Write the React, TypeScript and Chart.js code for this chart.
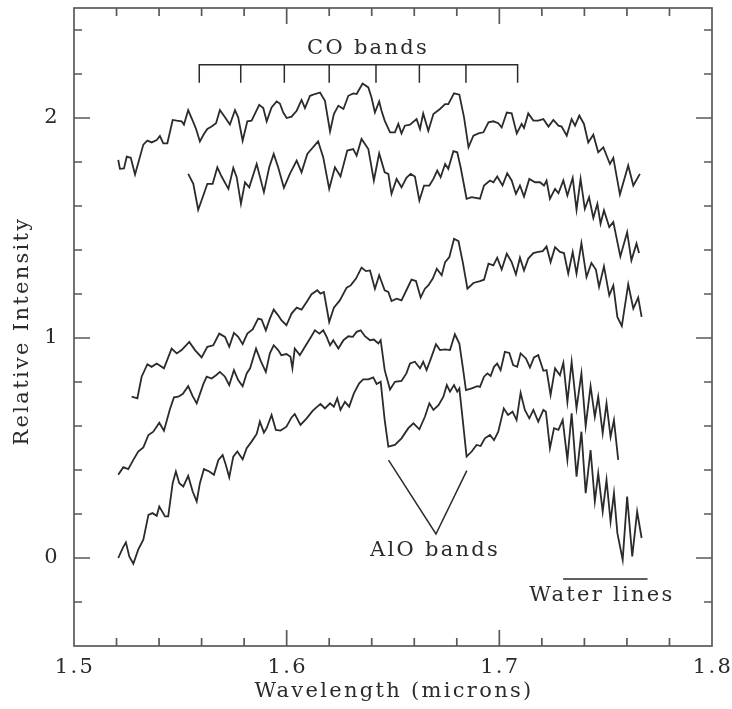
import { useEffect, useRef } from 'react';
import { Chart, registerables } from 'chart.js';

Chart.register(...registerables);

// spectra: [wavelength (microns), relative intensity]
const spectrumA: [number, number][] = [
  [1.5208, 1.81], [1.5216, 1.769], [1.5235, 1.771], [1.5248, 1.824], [1.5267, 1.819], [1.5287, 1.743],
  [1.5326, 1.879], [1.5345, 1.897], [1.5365, 1.889], [1.5389, 1.9], [1.5404, 1.918], [1.542, 1.885],
  [1.5439, 1.885], [1.5464, 1.991], [1.5483, 1.988], [1.5506, 1.985], [1.5517, 1.97], [1.5537, 2.036],
  [1.5558, 1.988], [1.5574, 1.95], [1.5592, 1.893], [1.5611, 1.927], [1.5627, 1.95], [1.5647, 1.961],
  [1.5668, 1.976], [1.5686, 2.036], [1.571, 2.003], [1.5733, 1.97], [1.5757, 2.036], [1.5772, 2.003],
  [1.5793, 1.897], [1.5815, 1.985], [1.5835, 1.988], [1.5871, 2.06], [1.589, 2.045], [1.5906, 1.985],
  [1.5929, 2.048], [1.5953, 2.075], [1.5968, 2.066], [1.5984, 2.025], [1.6, 2.0], [1.6023, 2.006],
  [1.6047, 2.033], [1.607, 2.082], [1.6086, 2.045], [1.611, 2.101], [1.6133, 2.109], [1.6157, 2.116],
  [1.618, 2.078], [1.6204, 1.939], [1.6222, 2.018], [1.6243, 2.056], [1.6267, 2.041], [1.629, 2.101],
  [1.6313, 2.112], [1.6329, 2.109], [1.6357, 2.157], [1.6384, 2.139], [1.6399, 2.093], [1.6415, 2.025],
  [1.6435, 2.075], [1.6446, 2.033], [1.6461, 1.988], [1.6486, 1.935], [1.6509, 1.935], [1.6525, 1.973],
  [1.654, 1.93], [1.6556, 1.965], [1.658, 1.97], [1.6611, 1.995], [1.6627, 1.95], [1.6642, 2.021],
  [1.6666, 1.942], [1.669, 2.018], [1.6721, 2.041], [1.6745, 2.063], [1.676, 2.063], [1.6787, 2.112],
  [1.6812, 2.106], [1.6834, 2.003], [1.6855, 1.867], [1.6878, 1.92], [1.6902, 1.93], [1.6925, 1.935],
  [1.6949, 1.98], [1.6972, 1.985], [1.6995, 1.976], [1.7011, 1.957], [1.7035, 2.025], [1.7058, 2.021],
  [1.7082, 1.93], [1.7105, 1.973], [1.7116, 1.955], [1.7136, 2.021], [1.716, 1.988], [1.7183, 1.988],
  [1.7207, 1.995], [1.7231, 1.961], [1.7254, 1.991], [1.7278, 1.965], [1.7293, 1.961], [1.7317, 1.92],
  [1.734, 1.995], [1.7356, 1.965], [1.7376, 2.011], [1.7398, 1.973], [1.7418, 1.889], [1.7442, 1.924],
  [1.7465, 1.844], [1.7489, 1.867], [1.752, 1.791], [1.7536, 1.819], [1.7567, 1.652], [1.7606, 1.784],
  [1.763, 1.693], [1.7661, 1.746],
];

const spectrumB: [number, number][] = [
  [1.5537, 1.746], [1.5561, 1.701], [1.5584, 1.583], [1.5608, 1.648], [1.5627, 1.701], [1.5652, 1.701],
  [1.5674, 1.776], [1.5694, 1.734], [1.5726, 1.678], [1.5749, 1.773], [1.5765, 1.731], [1.5785, 1.61],
  [1.5804, 1.708], [1.5824, 1.685], [1.5859, 1.791], [1.5893, 1.663], [1.5918, 1.776], [1.5939, 1.837],
  [1.596, 1.776], [1.5987, 1.683], [1.6015, 1.746], [1.6047, 1.806], [1.607, 1.753], [1.6097, 1.837],
  [1.6117, 1.859], [1.6148, 1.894], [1.6172, 1.821], [1.62, 1.678], [1.6227, 1.776], [1.6253, 1.734],
  [1.6285, 1.852], [1.6313, 1.859], [1.6329, 1.829], [1.6352, 1.905], [1.6384, 1.859], [1.641, 1.716],
  [1.6435, 1.839], [1.6461, 1.753], [1.6478, 1.746], [1.6493, 1.655], [1.6517, 1.723], [1.654, 1.685],
  [1.6563, 1.728], [1.6583, 1.746], [1.6603, 1.734], [1.6624, 1.625], [1.6646, 1.693], [1.6671, 1.693],
  [1.669, 1.723], [1.6708, 1.761], [1.6724, 1.731], [1.6745, 1.791], [1.676, 1.769], [1.6784, 1.849],
  [1.6802, 1.844], [1.6818, 1.776], [1.6846, 1.633], [1.687, 1.64], [1.6909, 1.633], [1.6928, 1.693],
  [1.6956, 1.716], [1.6972, 1.708], [1.699, 1.734], [1.7015, 1.693], [1.7037, 1.749], [1.7058, 1.716],
  [1.7078, 1.655], [1.7097, 1.693], [1.7116, 1.643], [1.7141, 1.723], [1.7168, 1.708], [1.7191, 1.708],
  [1.721, 1.693], [1.7222, 1.716], [1.7238, 1.633], [1.7262, 1.678], [1.7278, 1.658], [1.7301, 1.716],
  [1.732, 1.648], [1.7345, 1.728], [1.7363, 1.583], [1.7382, 1.723], [1.7402, 1.587], [1.7422, 1.64],
  [1.7442, 1.546], [1.7461, 1.61], [1.7476, 1.519], [1.7492, 1.58], [1.7517, 1.504], [1.7536, 1.527],
  [1.7569, 1.371], [1.7601, 1.481], [1.7621, 1.353], [1.7645, 1.429], [1.7657, 1.386],
];

const spectrumC: [number, number][] = [
  [1.5271, 0.733], [1.5298, 0.726], [1.5318, 0.824], [1.5345, 0.881], [1.5365, 0.869], [1.5389, 0.884],
  [1.5423, 0.862], [1.5459, 0.952], [1.5483, 0.93], [1.5506, 0.945], [1.5542, 0.982], [1.5569, 0.945],
  [1.56, 0.912], [1.5627, 0.96], [1.5655, 0.967], [1.5683, 1.02], [1.571, 1.005], [1.573, 0.96],
  [1.5752, 1.023], [1.5772, 1.005], [1.5793, 0.972], [1.5815, 1.02], [1.584, 1.039], [1.5866, 1.088],
  [1.5882, 1.084], [1.5902, 1.035], [1.5921, 1.088], [1.5939, 1.129], [1.596, 1.103], [1.5975, 1.081],
  [1.5999, 1.058], [1.6023, 1.111], [1.6047, 1.138], [1.607, 1.129], [1.6094, 1.164], [1.6117, 1.199],
  [1.6144, 1.217], [1.6159, 1.202], [1.6175, 1.209], [1.62, 1.073], [1.6222, 1.138], [1.625, 1.171],
  [1.6282, 1.229], [1.6301, 1.239], [1.6326, 1.27], [1.6352, 1.32], [1.6373, 1.304], [1.6392, 1.307],
  [1.6415, 1.224], [1.6435, 1.285], [1.6461, 1.217], [1.6478, 1.209], [1.6493, 1.168], [1.6517, 1.179],
  [1.654, 1.171], [1.6563, 1.217], [1.6587, 1.265], [1.6608, 1.259], [1.663, 1.184], [1.665, 1.224],
  [1.6666, 1.239], [1.6687, 1.27], [1.6706, 1.315], [1.6729, 1.285], [1.6745, 1.345], [1.6765, 1.368],
  [1.6787, 1.451], [1.6808, 1.44], [1.6828, 1.345], [1.685, 1.224], [1.6878, 1.25], [1.6909, 1.259],
  [1.6928, 1.265], [1.6949, 1.338], [1.6972, 1.33], [1.699, 1.365], [1.7011, 1.311], [1.7035, 1.383],
  [1.7058, 1.345], [1.7078, 1.289], [1.7097, 1.365], [1.7116, 1.307], [1.7136, 1.361], [1.716, 1.386],
  [1.7183, 1.391], [1.7204, 1.395], [1.7222, 1.416], [1.7241, 1.345], [1.7262, 1.413], [1.7285, 1.391],
  [1.7304, 1.386], [1.7324, 1.293], [1.7345, 1.391], [1.7363, 1.293], [1.7386, 1.431], [1.741, 1.277],
  [1.7433, 1.341], [1.7454, 1.311], [1.7469, 1.232], [1.7492, 1.326], [1.7517, 1.194], [1.7536, 1.239],
  [1.7555, 1.096], [1.7576, 1.054], [1.7606, 1.244], [1.763, 1.134], [1.7653, 1.184], [1.7669, 1.096],
];

const spectrumD: [number, number][] = [
  [1.5208, 0.378], [1.5232, 0.413], [1.5255, 0.404], [1.5279, 0.446], [1.5302, 0.484], [1.5326, 0.503],
  [1.535, 0.559], [1.5373, 0.574], [1.5401, 0.615], [1.5423, 0.579], [1.5451, 0.676], [1.547, 0.73],
  [1.549, 0.733], [1.5511, 0.745], [1.5537, 0.781], [1.5558, 0.736], [1.5577, 0.703], [1.5608, 0.79],
  [1.5624, 0.824], [1.5647, 0.816], [1.5668, 0.831], [1.5686, 0.846], [1.571, 0.824], [1.573, 0.786],
  [1.5752, 0.854], [1.5772, 0.809], [1.5793, 0.781], [1.5812, 0.839], [1.5828, 0.862], [1.5856, 0.952],
  [1.5878, 0.896], [1.5902, 0.846], [1.5921, 0.93], [1.5939, 0.967], [1.596, 0.945], [1.5975, 0.922],
  [1.5999, 0.927], [1.6018, 0.915], [1.6027, 0.862], [1.6038, 0.952], [1.6062, 0.922], [1.6086, 0.96],
  [1.611, 0.998], [1.6133, 1.035], [1.6154, 1.02], [1.6172, 1.035], [1.6188, 1.005], [1.6204, 0.967],
  [1.6219, 0.99], [1.6243, 0.952], [1.6267, 0.99], [1.629, 1.008], [1.6311, 1.005], [1.6329, 1.028],
  [1.6348, 1.035], [1.6368, 1.008], [1.6392, 0.99], [1.641, 0.993], [1.6431, 0.975], [1.6442, 0.99],
  [1.6461, 0.854], [1.6486, 0.766], [1.6509, 0.801], [1.654, 0.805], [1.6563, 0.839], [1.658, 0.884],
  [1.6603, 0.892], [1.6627, 0.862], [1.6642, 0.892], [1.6658, 0.854], [1.6681, 0.914], [1.6702, 0.972],
  [1.6721, 0.945], [1.6745, 0.948], [1.6768, 0.945], [1.6791, 1.017], [1.6812, 0.975], [1.6828, 0.869],
  [1.6843, 0.763], [1.687, 0.771], [1.6896, 0.781], [1.6909, 0.778], [1.6928, 0.824], [1.6944, 0.839],
  [1.6959, 0.827], [1.6975, 0.869], [1.699, 0.884], [1.7006, 0.854], [1.7026, 0.937], [1.7047, 0.932],
  [1.7065, 0.877], [1.7084, 0.869], [1.71, 0.93], [1.7125, 0.907], [1.7144, 0.866], [1.7163, 0.912],
  [1.7183, 0.922], [1.7207, 0.851], [1.7222, 0.854], [1.7241, 0.741], [1.7262, 0.862], [1.7285, 0.831],
  [1.7301, 0.887], [1.732, 0.71], [1.734, 0.892], [1.7363, 0.68], [1.7386, 0.839], [1.7406, 0.6],
  [1.7429, 0.781], [1.7449, 0.642], [1.7465, 0.733], [1.7486, 0.567], [1.7504, 0.703], [1.7523, 0.551],
  [1.7539, 0.627], [1.7559, 0.446],
];

const spectrumE: [number, number][] = [
  [1.5208, 0.0], [1.5229, 0.045], [1.5244, 0.071], [1.526, 0.007], [1.5279, -0.026], [1.5302, 0.038],
  [1.5326, 0.083], [1.535, 0.196], [1.5369, 0.204], [1.5389, 0.192], [1.5401, 0.234], [1.5428, 0.189],
  [1.5443, 0.189], [1.5464, 0.34], [1.5479, 0.393], [1.5495, 0.34], [1.5514, 0.325], [1.5537, 0.373],
  [1.5558, 0.302], [1.5577, 0.257], [1.5592, 0.34], [1.5611, 0.404], [1.5636, 0.393], [1.5658, 0.378],
  [1.5679, 0.446], [1.5699, 0.468], [1.5714, 0.423], [1.573, 0.367], [1.5749, 0.461], [1.5768, 0.484],
  [1.5793, 0.449], [1.5812, 0.499], [1.5835, 0.529], [1.5859, 0.564], [1.5874, 0.62], [1.5893, 0.57],
  [1.5906, 0.59], [1.5929, 0.65], [1.5949, 0.582], [1.5971, 0.579], [1.5999, 0.597], [1.6023, 0.639],
  [1.6038, 0.654], [1.6065, 0.605], [1.6094, 0.635], [1.6122, 0.669], [1.6144, 0.688], [1.6159, 0.7],
  [1.618, 0.68], [1.6204, 0.703], [1.6222, 0.688], [1.6238, 0.726], [1.6253, 0.673], [1.6274, 0.71],
  [1.6294, 0.688], [1.6316, 0.748], [1.6341, 0.794], [1.636, 0.812], [1.6384, 0.812], [1.6407, 0.821],
  [1.6423, 0.791], [1.6442, 0.801], [1.6461, 0.627], [1.6478, 0.506], [1.6509, 0.514], [1.654, 0.544],
  [1.6572, 0.59], [1.6596, 0.612], [1.6624, 0.585], [1.665, 0.642], [1.6671, 0.703], [1.669, 0.673],
  [1.6714, 0.695], [1.6737, 0.733], [1.6753, 0.786], [1.6768, 0.756], [1.6787, 0.786], [1.6802, 0.756],
  [1.6812, 0.771], [1.6828, 0.627], [1.6846, 0.461], [1.687, 0.484], [1.6893, 0.514], [1.6912, 0.509],
  [1.6932, 0.544], [1.6956, 0.559], [1.6975, 0.536], [1.6995, 0.574], [1.7021, 0.68], [1.7041, 0.65],
  [1.7062, 0.665], [1.7081, 0.627], [1.71, 0.751], [1.712, 0.673], [1.7141, 0.635], [1.716, 0.673],
  [1.7183, 0.62], [1.7207, 0.673], [1.7219, 0.665], [1.7238, 0.499], [1.7257, 0.59], [1.7278, 0.582],
  [1.7298, 0.627], [1.732, 0.446], [1.734, 0.658], [1.7363, 0.37], [1.7386, 0.574], [1.7406, 0.295],
  [1.7429, 0.491], [1.7449, 0.257], [1.7465, 0.385], [1.7486, 0.211], [1.7504, 0.355], [1.7523, 0.166],
  [1.7539, 0.295], [1.7555, 0.113], [1.758, -0.008], [1.7601, 0.279], [1.7625, 0.007], [1.7648, 0.211],
  [1.7669, 0.091],
];

// annotations
const coTickX = [1.5589, 1.5784, 1.5989, 1.62, 1.642, 1.6624, 1.6843, 1.7086];
const coBracketTop = 2.242;
const coTickBottom = 2.16;
const coLabel = { text: 'CO bands', x: 1.6378, y: 2.317 };

const aloVertices: [number, number][] = [[1.6479, 0.445], [1.6702, 0.109], [1.6847, 0.397]];
const aloLabel = { text: 'AlO bands', x: 1.6693, y: 0.035 };

const waterLineX = [1.73, 1.7697];
const waterLineY = -0.095;
const waterLabel = { text: 'Water lines', x: 1.7478, y: -0.169 };

const xTitle = 'Wavelength (microns)';
const yTitle = 'Relative Intensity';

const INK = '#2b2b2b';
const AXIS = '#5a5a5a';
const FONT = '"DejaVu Serif", serif';
const TEXT_FONT = `21px ${FONT}`;
const SPACING = '2.3px';

const isMajorX = (v: number) => Math.abs(v * 10 - Math.round(v * 10)) < 1e-6;
const isMinorX = (v: number) => Math.abs(v * 50 - Math.round(v * 50)) < 1e-6;
const isMajorY = (v: number) => Math.abs(v - Math.round(v)) < 1e-6;
const isMinorY = (v: number) => Math.abs(v * 5 - Math.round(v * 5)) < 1e-6;

const toPoints = (s: [number, number][]) => s.map(([x, y]) => ({ x, y }));

function coBracket() {
  const first = coTickX[0];
  const last = coTickX[coTickX.length - 1];
  const pts: { x: number; y: number | null }[] = [
    { x: first, y: coTickBottom },
    { x: first, y: coBracketTop },
    { x: last, y: coBracketTop },
    { x: last, y: coTickBottom },
  ];
  coTickX.slice(1, -1).forEach((x) => {
    pts.push({ x, y: null });
    pts.push({ x, y: coBracketTop });
    pts.push({ x, y: coTickBottom });
  });
  return pts;
}

// frame, inward ticks and all text
const framePlugin = {
  id: 'frame',
  afterDatasetsDraw(chart: any) {
    const { ctx, chartArea, scales } = chart;
    const { left, right, top, bottom } = chartArea;
    const xs = scales.x;
    const ys = scales.y;
    ctx.save();
    ctx.strokeStyle = AXIS;
    ctx.lineWidth = 1.7;
    ctx.strokeRect(left, top, right - left, bottom - top);
    ctx.beginPath();
    xs.ticks.forEach((t: any) => {
      const v = t.value;
      if (!isMinorX(v) || v <= xs.min + 1e-9 || v >= xs.max - 1e-9) return;
      const px = xs.getPixelForValue(v);
      const len = isMajorX(v) ? 16 : 8;
      ctx.moveTo(px, bottom);
      ctx.lineTo(px, bottom - len);
      ctx.moveTo(px, top);
      ctx.lineTo(px, top + len);
    });
    ys.ticks.forEach((t: any) => {
      const v = t.value;
      if (!isMinorY(v) || v <= ys.min + 1e-9 || v >= ys.max - 1e-9) return;
      const py = ys.getPixelForValue(v);
      const len = isMajorY(v) ? 16 : 8;
      ctx.moveTo(left, py);
      ctx.lineTo(left + len, py);
      ctx.moveTo(right, py);
      ctx.lineTo(right - len, py);
    });
    ctx.stroke();

    ctx.fillStyle = INK;
    ctx.font = TEXT_FONT;
    ctx.letterSpacing = SPACING;
    ctx.textBaseline = 'middle';

    // x tick labels
    ctx.textAlign = 'center';
    xs.ticks.forEach((t: any) => {
      if (!isMajorX(t.value)) return;
      ctx.fillText(t.value.toFixed(1), xs.getPixelForValue(t.value) + 1, bottom + 22);
    });
    // y tick labels
    ctx.textAlign = 'right';
    ys.ticks.forEach((t: any) => {
      if (!isMajorY(t.value)) return;
      ctx.fillText(String(Math.round(t.value)), left - 14, ys.getPixelForValue(t.value));
    });
    // axis titles
    ctx.textAlign = 'center';
    ctx.fillText(xTitle, (left + right) / 2 + 1, bottom + 46);
    ctx.save();
    ctx.translate(23, (top + bottom) / 2 + 4);
    ctx.rotate(-Math.PI / 2);
    ctx.fillText(yTitle, 0, 0);
    ctx.restore();

    // annotation labels
    [coLabel, aloLabel, waterLabel].forEach((l) => {
      ctx.fillText(l.text, xs.getPixelForValue(l.x) + 1, ys.getPixelForValue(l.y));
    });
    ctx.restore();
  },
};

export default function App() {
  const canvasRef = useRef<HTMLCanvasElement>(null);
  const chartRef = useRef<Chart | null>(null);

  useEffect(() => {
    document.body.style.margin = '0';
    if (!canvasRef.current) return;
    const ctx = canvasRef.current.getContext('2d');
    if (!ctx) return;
    if (chartRef.current) chartRef.current.destroy();

    const lineStyle = {
      borderColor: INK,
      borderWidth: 1.8,
      pointRadius: 0,
      tension: 0,
      fill: false,
    };

    chartRef.current = new Chart(ctx, {
      type: 'line',
      data: {
        datasets: [
          { ...lineStyle, data: toPoints(spectrumA) },
          { ...lineStyle, data: toPoints(spectrumB) },
          { ...lineStyle, data: toPoints(spectrumC) },
          { ...lineStyle, data: toPoints(spectrumD) },
          { ...lineStyle, data: toPoints(spectrumE) },
          { ...lineStyle, borderWidth: 1.5, data: coBracket() as any },
          { ...lineStyle, borderWidth: 1.5, data: toPoints(aloVertices) },
          { ...lineStyle, borderWidth: 1.5, data: waterLineX.map((x) => ({ x, y: waterLineY })) },
        ],
      },
      options: {
        animation: false,
        responsive: true,
        maintainAspectRatio: false,
        spanGaps: false,
        layout: { padding: { top: 8, right: 20, bottom: 0, left: 0 } },
        plugins: {
          legend: { display: false },
          tooltip: { enabled: false },
        },
        scales: {
          x: {
            type: 'linear',
            min: 1.5,
            max: 1.8,
            grid: { display: false, drawTicks: false },
            border: { display: false },
            ticks: { stepSize: 0.02, autoSkip: false, display: false },
            afterFit: (s: any) => {
              s.height = 63;
              s.paddingLeft = 0;
              s.paddingRight = 0;
            },
          },
          y: {
            type: 'linear',
            min: -0.4,
            max: 2.5,
            grid: { display: false, drawTicks: false },
            border: { display: false },
            ticks: { stepSize: 0.2, autoSkip: false, display: false },
            afterFit: (s: any) => {
              s.width = 74;
              s.paddingTop = 0;
              s.paddingBottom = 0;
            },
          },
        },
      },
      plugins: [framePlugin],
    });

    return () => {
      if (chartRef.current) {
        chartRef.current.destroy();
        chartRef.current = null;
      }
    };
  }, []);

  return (
    <div style={{ position: 'relative', width: 732, height: 709, background: '#fff' }}>
      <canvas ref={canvasRef} />
    </div>
  );
}
